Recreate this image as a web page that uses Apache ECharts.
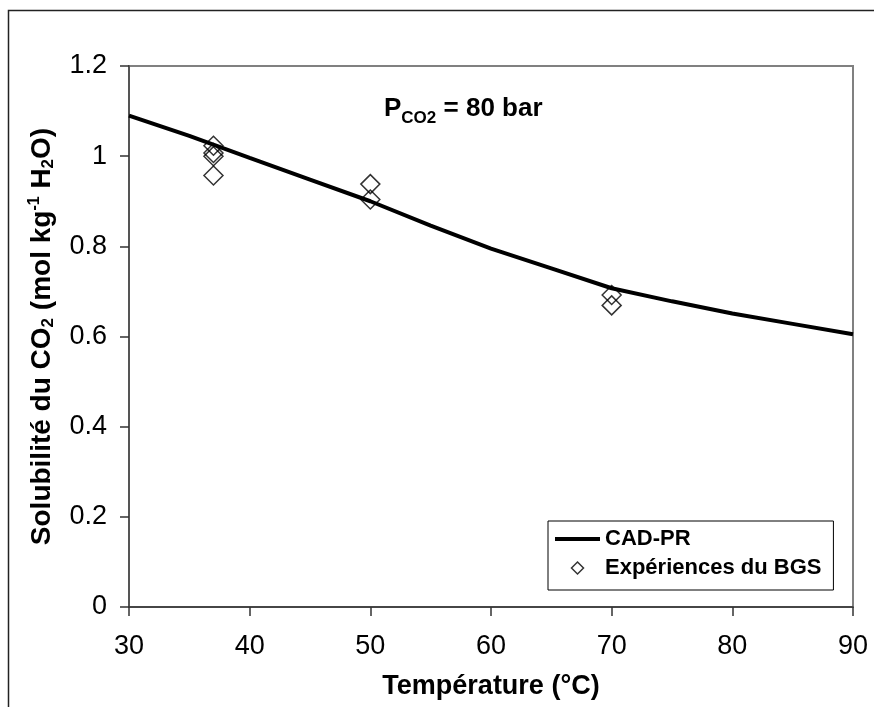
<!DOCTYPE html>
<html>
<head>
<meta charset="utf-8">
<script src="https://cdn.jsdelivr.net/npm/echarts@6/dist/echarts.min.js"></script>
<style>
  html, body { margin: 0; padding: 0; background: #fff; }
  #chart { width: 874px; height: 707px; }
</style>
</head>
<body>
<div id="chart"></div>
<script>
// courbe du modele CAD-PR
var modelT = [30, 35, 40, 45, 50, 55, 60, 65, 70, 75, 80, 85, 90];
var modelS = [1.090, 1.045, 0.996, 0.948, 0.900, 0.846, 0.795, 0.751, 0.707, 0.678, 0.651, 0.628, 0.605];

// points experimentaux BGS
var expT = [37, 37, 37, 37, 50, 50, 70, 70];
var expS = [1.023, 1.007, 1.000, 0.957, 0.938, 0.904, 0.692, 0.669];

var xTicks = { min: 30, max: 90, step: 10 };
var yTicks = { min: 0, max: 1.2, step: 0.2 };

var myChart = echarts.init(document.getElementById('chart'));
var font = '"Liberation Sans", Arial, sans-serif';

var lineData = [];
for (var i = 0; i < modelT.length; ++i) {
  lineData.push([modelT[i], modelS[i]]);
}
var expData = [];
for (var j = 0; j < expT.length; ++j) {
  expData.push([expT[j], expS[j]]);
}

var option = {
  animation: false,
  backgroundColor: '#fff',
  textStyle: { fontFamily: font },
  graphic: [{
    type: 'rect',
    shape: { x: 8.5, y: 10.5, width: 900, height: 720 },
    style: { fill: 'none', stroke: '#222', lineWidth: 1.5 },
    silent: true
  }],
  title: {
    left: 379,
    top: 89,
    text: '{p|P}{s|CO2}{p| = 80 bar}',
    textStyle: {
      rich: {
        p: { fontFamily: font, fontSize: 26, fontWeight: 'bold', color: '#000', lineHeight: 30, verticalAlign: 'middle' },
        s: { fontFamily: font, fontSize: 17, fontWeight: 'bold', color: '#000', lineHeight: 17, padding: [18, 0, 0, 0], verticalAlign: 'middle' }
      }
    }
  },
  legend: {
    orient: 'vertical',
    left: 548,
    top: 521,
    padding: [7, 12, 11, 7],
    itemGap: 7,
    itemWidth: 45,
    itemHeight: 12,
    backgroundColor: '#fff',
    borderColor: '#000',
    borderWidth: 1,
    borderRadius: 0,
    textStyle: { fontFamily: font, fontSize: 22, fontWeight: 'bold', color: '#000' },
    data: [
      {
        name: 'CAD-PR',
        icon: 'path://M0,0L45,0L45,4L0,4Z',
        itemStyle: { color: '#000', borderWidth: 0 }
      },
      {
        name: 'Expériences du BGS',
        icon: 'path://M0,-1L1,0L0,1L-1,0Z',
        itemStyle: { color: 'transparent', borderColor: '#000', borderWidth: 1.5 }
      }
    ]
  },
  grid: {
    left: 129,
    top: 66,
    right: 21,
    bottom: 100,
    show: true,
    borderColor: '#808080',
    borderWidth: 2
  },
  xAxis: {
    type: 'value',
    min: xTicks.min,
    max: xTicks.max,
    interval: xTicks.step,
    name: 'Température (°C)',
    nameLocation: 'middle',
    nameGap: 66,
    nameTextStyle: { fontFamily: font, fontSize: 27, fontWeight: 'bold', color: '#000' },
    axisLine: { lineStyle: { color: '#333', width: 1.5 } },
    axisTick: { inside: false, length: 9, lineStyle: { color: '#333', width: 1.5 } },
    axisLabel: { margin: 26, fontFamily: font, fontSize: 27, color: '#000' },
    splitLine: { show: false }
  },
  yAxis: {
    type: 'value',
    min: yTicks.min,
    max: yTicks.max,
    interval: yTicks.step,
    name: '{t|Solubilité du CO}{sub|2}{t| (mol kg}{sup|-1}{t| H}{sub|2}{t|O)}',
    nameLocation: 'middle',
    nameGap: 72,
    nameTextStyle: {
      rich: {
        t: { fontFamily: font, fontSize: 28, fontWeight: 'bold', color: '#000', lineHeight: 30, verticalAlign: 'middle' },
        sub: { fontFamily: font, fontSize: 17, fontWeight: 'bold', color: '#000', lineHeight: 17, padding: [12, 0, 0, 0], verticalAlign: 'middle' },
        sup: { fontFamily: font, fontSize: 16, fontWeight: 'bold', color: '#000', lineHeight: 16, padding: [0, 0, 14, 0], verticalAlign: 'middle' }
      }
    },
    axisLine: { show: true, lineStyle: { color: '#555', width: 2 } },
    axisTick: { show: true, inside: false, length: 9, lineStyle: { color: '#333', width: 1.5 } },
    axisLabel: { margin: 22, fontFamily: font, fontSize: 27, color: '#000' },
    splitLine: { show: false }
  },
  series: [{
    name: 'CAD-PR',
    type: 'line',
    data: lineData,
    symbol: 'none',
    smooth: false,
    lineStyle: { color: '#000', width: 4 },
    itemStyle: { color: '#000' },
    z: 2
  }, {
    name: 'Expériences du BGS',
    type: 'scatter',
    data: expData,
    symbol: 'diamond',
    symbolSize: 19,
    itemStyle: { color: 'transparent', borderColor: '#000', borderWidth: 1.5 },
    z: 3
  }]
};

myChart.setOption(option);
</script>
</body>
</html>
